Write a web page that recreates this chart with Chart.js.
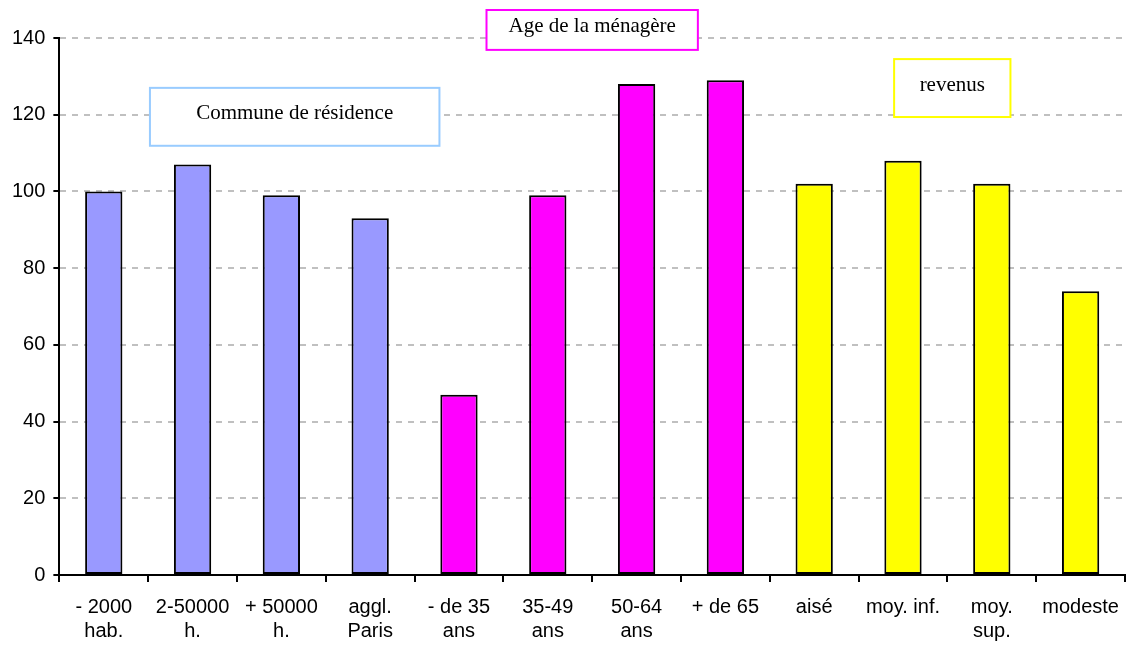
<!DOCTYPE html>
<html>
<head>
<meta charset="utf-8">
<script src="https://cdn.jsdelivr.net/npm/chart.js@4/dist/chart.umd.min.js"></script>
<style>
  body { margin: 0; background: #fff; }
  #wrap { width: 1126px; height: 645px; position: relative; }
</style>
</head>
<body>
<div id="wrap"><canvas id="chart"></canvas></div>
<script>
const categories = [
  ['- 2000', 'hab.'], ['2-50000', 'h.'], ['+ 50000', 'h.'], ['aggl.', 'Paris'],
  ['- de 35', 'ans'], ['35-49', 'ans'], ['50-64', 'ans'], '+ de 65',
  'aisé', 'moy. inf.', ['moy.', 'sup.'], 'modeste'
];
const values = [100, 107, 99, 93, 47, 99, 128, 129, 102, 108, 102, 74];
const groupOf = [0, 0, 0, 0, 1, 1, 1, 1, 2, 2, 2, 2];
const groupNames = ['Commune de résidence', 'Age de la ménagère', 'revenus'];
const yTicks = [0, 20, 40, 60, 80, 100, 120, 140];

// styles
const groupColors = ['#9999ff', '#ff00ff', '#ffff00'];
const boxBorders = ['#99ccff', '#ff00ff', '#ffff00'];
// label boxes in axis units (category index, value)
const boxPlace = [
  { x0: 0.52, x1: 3.78, y0: 111.9, y1: 127.0 },
  { x0: 4.31, x1: 6.69, y0: 136.9, y1: 147.3 },
  { x0: 8.90, x1: 10.21, y0: 119.4, y1: 134.5 }
];

const labelBoxes = {
  id: 'labelBoxes',
  afterDatasetsDraw(chart) {
    const { ctx, scales: { x, y } } = chart;
    const step = x.getPixelForValue(1) - x.getPixelForValue(0);
    const px = v => x.getPixelForValue(0) + v * step;
    ctx.save();
    groupNames.forEach((name, i) => {
      const b = boxPlace[i];
      const l = px(b.x0), r = px(b.x1);
      const t = y.getPixelForValue(b.y1), btm = y.getPixelForValue(b.y0);
      ctx.fillStyle = '#fff';
      ctx.fillRect(l, t, r - l, btm - t);
      ctx.strokeStyle = boxBorders[i];
      ctx.lineWidth = 2;
      ctx.strokeRect(l, t, r - l, btm - t);
      ctx.fillStyle = '#000';
      ctx.font = '21px "Liberation Serif", "Times New Roman", serif';
      ctx.textAlign = 'center';
      ctx.textBaseline = 'middle';
      ctx.fillText(name, (l + r) / 2, (t + btm) / 2 - 3);
    });
    ctx.restore();
  }
};

const font = { family: '"Liberation Sans", Arial, sans-serif', size: 20 };

new Chart(document.getElementById('chart'), {
  type: 'bar',
  data: {
    labels: categories,
    datasets: [{
      data: values,
      backgroundColor: values.map((v, i) => groupColors[groupOf[i]]),
      borderColor: '#000',
      borderWidth: 2,
      borderSkipped: false,
      barPercentage: 0.42,
      categoryPercentage: 1
    }]
  },
  options: {
    responsive: true,
    maintainAspectRatio: false,
    animation: false,
    layout: { padding: { left: 4, right: 1, top: 38, bottom: -4 } },
    plugins: { legend: { display: false }, tooltip: { enabled: false } },
    scales: {
      x: {
        // long tick slot, but only the first 6px are drawn
        grid: { drawOnChartArea: false, drawTicks: true, tickLength: 14, tickBorderDash: [6, 40], color: '#000', lineWidth: 2 },
        border: { color: '#000', width: 2 },
        ticks: { color: '#000', font, maxRotation: 0, autoSkip: false, padding: 6 }
      },
      y: {
        min: 0,
        max: 140,
        afterBuildTicks: axis => { axis.ticks = yTicks.map(v => ({ value: v })); },
        grid: { color: '#c0c0c0', lineWidth: 2, tickColor: '#000', tickLength: 6, tickBorderDash: [] },
        border: { color: '#000', width: 2, dash: [6, 6] },
        ticks: { color: '#000', font, padding: 8 }
      }
    }
  },
  plugins: [labelBoxes]
});
</script>
</body>
</html>
